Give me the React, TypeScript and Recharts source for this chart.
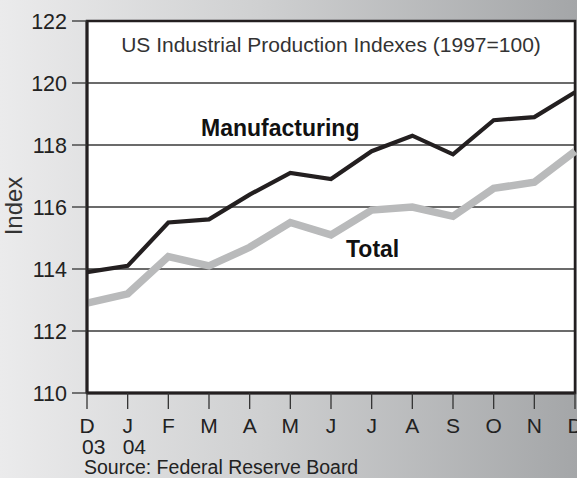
import React from 'react';
import { LineChart, Line, XAxis, YAxis, CartesianGrid, ReferenceArea } from 'recharts';

const months = ['D', 'J', 'F', 'M', 'A', 'M', 'J', 'J', 'A', 'S', 'O', 'N', 'D'];
const years = ['03', '04', '', '', '', '', '', '', '', '', '', '', ''];
const manufacturing = [113.9, 114.1, 115.5, 115.6, 116.4, 117.1, 116.9, 117.8, 118.3, 117.7, 118.8, 118.9, 119.7];
const total = [112.9, 113.2, 114.4, 114.1, 114.7, 115.5, 115.1, 115.9, 116.0, 115.7, 116.6, 116.8, 117.8];
const yTicks = [110, 112, 114, 116, 118, 120, 122];

const data = months.map((m, i) => ({
  key: i,
  month: m,
  year: years[i],
  manufacturing: manufacturing[i],
  total: total[i],
}));

const FONT = '"Liberation Sans", Arial, sans-serif';

const XTick = (props: any) => {
  const { x, y, index } = props;
  const d = data[index];
  return (
    <g>
      <text x={x} y={y + 22} textAnchor="middle" fontSize={21} fill="#222" fontFamily={FONT}>
        {d.month}
      </text>
      {d.year ? (
        <text x={x - 5} y={y + 43} textAnchor="start" fontSize={21} fill="#222" fontFamily={FONT}>
          {d.year}
        </text>
      ) : null}
    </g>
  );
};

export default function App() {
  return (
    <div
      style={{
        position: 'absolute',
        left: 0,
        top: 0,
        width: 577,
        height: 478,
        overflow: 'hidden',
        background: 'linear-gradient(to right, #ebebec 0%, #cfd0d1 45%, #a4a6a8 100%)',
        fontFamily: FONT,
      }}
    >
      <LineChart
        width={577}
        height={478}
        data={data}
        margin={{ top: 21, right: 2, bottom: 15, left: 27 }}
      >
        <CartesianGrid vertical={false} horizontal={true} stroke="#3a3a3a" strokeWidth={1.3} fill="#ffffff" />
        <XAxis
          dataKey="key"
          type="category"
          height={70}
          interval={0}
          tickSize={16}
          tickLine={{ stroke: '#333', strokeWidth: 1.3 }}
          axisLine={{ stroke: '#231f20', strokeWidth: 3 }}
          tick={<XTick />}
        />
        <YAxis
          width={60}
          domain={[110, 122]}
          ticks={yTicks}
          interval={0}
          tickSize={15}
          tickMargin={5}
          tickLine={{ stroke: '#333', strokeWidth: 1.3 }}
          axisLine={{ stroke: '#231f20', strokeWidth: 3 }}
          tick={{ fontSize: 21.5, fill: '#222', fontFamily: FONT }}
        />
        <ReferenceArea x1={0} x2={12} y1={110} y2={122} fill="none" fillOpacity={0} stroke="#231f20" strokeWidth={2.5} />
        <Line
          type="linear"
          dataKey="total"
          stroke="#b9babb"
          strokeWidth={7.5}
          dot={false}
          isAnimationActive={false}
          strokeLinejoin="miter"
        />
        <Line
          type="linear"
          dataKey="manufacturing"
          stroke="#231f20"
          strokeWidth={4.2}
          dot={false}
          isAnimationActive={false}
          strokeLinejoin="miter"
        />
      </LineChart>
      <svg
        width={577}
        height={478}
        style={{ position: 'absolute', left: 0, top: 0, pointerEvents: 'none' }}
      >
        <text x={331} y={52} textAnchor="middle" fontSize={21} fill="#333" fontFamily={FONT}>
          US Industrial Production Indexes (1997=100)
        </text>
        <text x={201} y={136} fontSize={23} fontWeight="bold" fill="#111" fontFamily={FONT}>
          Manufacturing
        </text>
        <text x={346} y={257} fontSize={23} fontWeight="bold" fill="#111" fontFamily={FONT}>
          Total
        </text>
        <text
          x={22}
          y={206}
          textAnchor="middle"
          fontSize={24}
          fill="#333"
          fontFamily={FONT}
          transform="rotate(-90 22 206)"
        >
          Index
        </text>
        <text x={84} y={474} fontSize={19.5} fill="#222" fontFamily={FONT}>
          Source: Federal Reserve Board
        </text>
      </svg>
    </div>
  );
}
